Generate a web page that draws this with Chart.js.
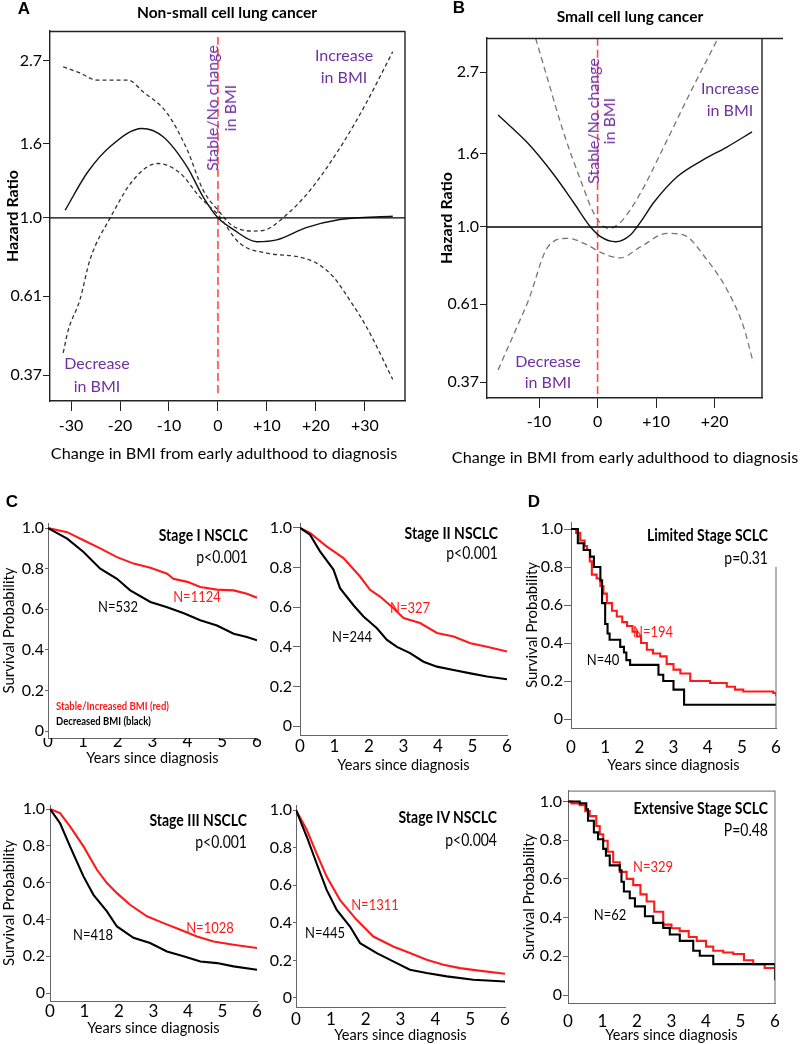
<!DOCTYPE html>
<html><head><meta charset="utf-8">
<script src="https://cdn.jsdelivr.net/npm/chart.js@4.4.1/dist/chart.umd.min.js"></script>
<style>
body{margin:0;width:800px;height:1044px;position:relative;background:#fff;font-family:Lato,sans-serif;overflow:hidden}
.box{position:absolute}
.t{position:absolute;white-space:nowrap;line-height:1.15;color:#000}
</style></head><body>
<script>
// ---------------- DATA ----------------
// Panel A: Non-small cell lung cancer (spline hazard ratio vs BMI change)
const hrTicks = [0.37, 0.61, 1.0, 1.6, 2.7];
const hrTickLabels = ['0.37', '0.61', '1.0', '1.6', '2.7'];
const nsclcXTicks = [-30, -20, -10, 0, 10, 20, 30];
const nsclcXTickLabels = ['-30', '-20', '-10', '0', '+10', '+20', '+30'];
const nsclcHrX = [-31.2, -26.7, -22, -15.5, -11.2, -6.3, -3, 0, 3.1, 7.9, 12, 18, 24.9, 35.7];
const nsclcHrY = [1.05, 1.33, 1.57, 1.76, 1.67, 1.38, 1.14, 1.0, 0.93, 0.86, 0.87, 0.94, 0.99, 1.01];
const nsclcUpperX = [-31.6, -28.2, -24.7, -18.4, -15.3, -10.4, -6.3, -3, 0, 3, 7.2, 10, 13.3, 18.8, 25.6, 30.3, 35.7];
const nsclcUpperY = [2.60, 2.50, 2.39, 2.39, 2.22, 1.94, 1.54, 1.19, 1.05, 0.95, 0.92, 0.93, 1.0, 1.19, 1.61, 2.07, 2.86];
const nsclcLowerX = [-31.6, -30.6, -28.2, -26.1, -22, -17.3, -12.4, -7.8, -3.7, 0, 4.5, 10, 16.7, 20.2, 23.5, 26.9, 30.4, 35.7];
const nsclcLowerY = [0.426, 0.49, 0.595, 0.77, 1.0, 1.27, 1.41, 1.33, 1.14, 1.02, 0.85, 0.80, 0.78, 0.75, 0.69, 0.595, 0.50, 0.36];

// Panel B: Small cell lung cancer
const sclcXTicks = [-10, 0, 10, 20];
const sclcXTickLabels = ['-10', '0', '+10', '+20'];
const sclcHrX = [-17, -11.9, -7.5, -4.1, -1.2, 0.5, 3.1, 5.6, 7.3, 9.6, 13.6, 18.1, 22.1, 26.4];
const sclcHrY = [2.05, 1.71, 1.40, 1.17, 1.0, 0.94, 0.91, 0.95, 1.03, 1.17, 1.38, 1.54, 1.67, 1.84];
const sclcUpperX = [-10.6, -8.5, -5.8, -2.9, -0.6, 1.9, 3.9, 7.3, 11.3, 15.8, 20.6];
const sclcUpperY = [3.36, 2.57, 1.83, 1.35, 1.09, 0.99, 1.03, 1.24, 1.67, 2.36, 3.36];
const sclcLowerX = [-17, -14, -11.8, -8.5, -5.1, -1.7, 0.5, 3.9, 7.3, 11.9, 14.7, 18.7, 22.1, 24.9, 26.6];
const sclcLowerY = [0.40, 0.517, 0.626, 0.88, 0.93, 0.89, 0.85, 0.82, 0.88, 0.96, 0.95, 0.81, 0.67, 0.53, 0.42];

// Kaplan-Meier panels (years, survival probability)
const kmXTicks = [0, 1, 2, 3, 4, 5, 6];
const kmYTicks = [0, 0.2, 0.4, 0.6, 0.8, 1.0];
const kmYTickLabels = ['0', '0.2', '0.4', '0.6', '0.8', '1.0'];

const stage1RedT = [0, 0.55, 1.02, 1.5, 1.98, 2.46, 2.94, 3.42, 3.6, 4.0, 4.37, 4.85, 5.33, 5.71, 6.0];
const stage1RedS = [1, 0.98, 0.94, 0.90, 0.857, 0.825, 0.805, 0.775, 0.75, 0.735, 0.71, 0.697, 0.693, 0.677, 0.657];
const stage1BlackT = [0, 0.55, 1.02, 1.5, 1.98, 2.36, 2.94, 3.42, 3.9, 4.37, 4.85, 5.33, 5.71, 6.0];
const stage1BlackS = [1, 0.948, 0.882, 0.80, 0.75, 0.693, 0.636, 0.61, 0.58, 0.546, 0.52, 0.48, 0.464, 0.447];

const stage2RedT = [0, 0.29, 0.77, 1.26, 1.74, 2.03, 2.32, 2.71, 3.0, 3.48, 3.97, 4.45, 4.94, 5.42, 6.0];
const stage2RedS = [1, 0.975, 0.907, 0.848, 0.755, 0.688, 0.654, 0.595, 0.545, 0.52, 0.47, 0.452, 0.418, 0.40, 0.376];
const stage2BlackT = [0, 0.29, 0.58, 0.97, 1.16, 1.55, 1.84, 2.23, 2.52, 2.81, 3.19, 3.58, 3.97, 4.45, 4.94, 5.42, 6.0];
const stage2BlackS = [1, 0.966, 0.882, 0.79, 0.696, 0.61, 0.553, 0.494, 0.435, 0.40, 0.368, 0.325, 0.30, 0.283, 0.266, 0.25, 0.236];

const stage3RedT = [0, 0.29, 0.58, 0.97, 1.36, 1.65, 1.94, 2.32, 2.81, 3.29, 3.78, 4.26, 4.74, 5.32, 6.0];
const stage3RedS = [1, 0.978, 0.906, 0.797, 0.67, 0.598, 0.543, 0.48, 0.417, 0.38, 0.344, 0.308, 0.28, 0.263, 0.245];
const stage3BlackT = [0, 0.29, 0.58, 0.97, 1.26, 1.65, 1.94, 2.42, 2.9, 3.39, 3.87, 4.36, 4.84, 5.32, 6.0];
const stage3BlackS = [1, 0.924, 0.797, 0.634, 0.534, 0.444, 0.362, 0.30, 0.272, 0.226, 0.20, 0.172, 0.163, 0.145, 0.127];

const stage4RedT = [0, 0.31, 0.59, 0.88, 1.26, 1.74, 2.22, 2.79, 3.27, 3.75, 4.23, 4.71, 5.19, 6.0];
const stage4RedS = [1, 0.894, 0.77, 0.646, 0.522, 0.416, 0.327, 0.274, 0.239, 0.204, 0.177, 0.159, 0.147, 0.129];
const stage4BlackT = [0, 0.31, 0.59, 0.88, 1.17, 1.55, 1.84, 2.32, 2.79, 3.27, 3.75, 4.33, 5.09, 6.0];
const stage4BlackS = [1, 0.858, 0.717, 0.575, 0.469, 0.38, 0.292, 0.239, 0.195, 0.15, 0.133, 0.115, 0.097, 0.088];

const limitedRedT = [0, 0.15, 0.27, 0.4, 0.47, 0.55, 0.61, 0.75, 0.86, 0.95, 1.05, 1.2, 1.34, 1.5, 1.64, 1.8, 1.93, 2.05, 2.22, 2.4, 2.61, 2.8, 3.0, 3.2, 3.49, 4.07, 4.56, 4.8, 5.04, 5.92, 6.0];
const limitedRedS = [1, 0.98, 0.94, 0.91, 0.89, 0.83, 0.76, 0.74, 0.70, 0.66, 0.61, 0.57, 0.54, 0.51, 0.49, 0.46, 0.435, 0.40, 0.365, 0.345, 0.33, 0.29, 0.26, 0.24, 0.20, 0.19, 0.17, 0.155, 0.145, 0.137, 0.12];
const limitedBlackT = [0, 0.2, 0.37, 0.56, 0.67, 0.86, 0.91, 1.0, 1.07, 1.13, 1.44, 1.55, 1.62, 1.73, 2.56, 2.7, 3.0, 3.31, 6.0];
const limitedBlackS = [1, 0.925, 0.89, 0.855, 0.80, 0.73, 0.61, 0.50, 0.45, 0.417, 0.38, 0.35, 0.31, 0.285, 0.233, 0.20, 0.155, 0.075, 0.075];

const extensiveRedT = [0, 0.1, 0.34, 0.5, 0.63, 0.82, 0.92, 1.02, 1.15, 1.31, 1.5, 1.7, 1.89, 2.1, 2.28, 2.5, 2.76, 3.0, 3.24, 3.5, 3.73, 4.0, 4.21, 4.5, 4.79, 5.1, 5.37, 5.7, 6.0];
const extensiveRedS = [1, 0.99, 0.98, 0.95, 0.924, 0.873, 0.83, 0.797, 0.74, 0.686, 0.636, 0.60, 0.568, 0.52, 0.483, 0.43, 0.364, 0.345, 0.33, 0.30, 0.28, 0.25, 0.229, 0.22, 0.212, 0.18, 0.16, 0.14, 0.119];
const extensiveBlackT = [0, 0.34, 0.53, 0.58, 0.75, 0.87, 1.02, 1.1, 1.21, 1.5, 1.55, 1.62, 1.79, 1.94, 2.23, 2.47, 2.76, 2.95, 3.24, 3.63, 3.82, 4.21, 5.97, 6.0];
const extensiveBlackS = [1, 0.99, 0.96, 0.90, 0.84, 0.805, 0.755, 0.72, 0.67, 0.645, 0.585, 0.535, 0.50, 0.458, 0.407, 0.373, 0.347, 0.313, 0.28, 0.229, 0.203, 0.16, 0.16, 0.076];

// ---------------- HELPERS ----------------
Chart.defaults.font.family = 'Lato, sans-serif';
Chart.defaults.color = '#000';
const PURPLE = '#7030A0';
const RED = '#ff1a1a';

const pts = (xs, ys) => xs.map((x, i) => ({x: x, y: ys[i]}));

const framePlugin = {
  id: 'frame',
  afterDraw(chart, args, o) {
    if (!o || (!o.top && !o.right)) return;
    const a = chart.chartArea, ctx = chart.ctx;
    const ext = o.topExtend ? o.topExtend : 0;
    ctx.save();
    ctx.strokeStyle = o.color || '#000';
    ctx.lineWidth = o.width || 1;
    ctx.setLineDash([]);
    ctx.beginPath();
    if (o.top) { ctx.moveTo(a.left, a.top + 0.5); ctx.lineTo(a.right + ext, a.top + 0.5); }
    if (o.right) {
      const y0 = (typeof o.rightFrom === 'number') ? chart.scales.y.getPixelForValue(o.rightFrom) : a.top;
      ctx.moveTo(a.right, y0); ctx.lineTo(a.right, a.bottom);
    }
    ctx.stroke();
    ctx.restore();
  }
};
Chart.register(framePlugin);

function makeCanvas(left, top, w, h) {
  const d = document.createElement('div');
  d.className = 'box';
  d.style.left = left + 'px'; d.style.top = top + 'px';
  d.style.width = w + 'px'; d.style.height = h + 'px';
  const c = document.createElement('canvas');
  c.width = w; c.height = h;
  c.style.width = w + 'px'; c.style.height = h + 'px';
  d.appendChild(c);
  document.body.appendChild(d);
  return c;
}

function text(str, x, y, o) {
  o = o || {};
  const d = document.createElement('div');
  d.className = 't';
  d.innerHTML = str;
  d.style.left = x + 'px'; d.style.top = y + 'px';
  d.style.fontSize = (o.size || 14) + 'px';
  d.style.fontWeight = o.bold ? '700' : '400';
  d.style.color = o.color || '#000';
  if (o.family) d.style.fontFamily = o.family;
  if (o.lh) d.style.lineHeight = o.lh + 'px';
  d.style.textAlign = o.align || 'center';
  const ax = o.anchor === 'right' ? '-100%' : (o.anchor === 'left' ? '0' : '-50%');
  let tr = 'translate(' + ax + ',-50%)';
  if (o.rotate) tr = 'translate(-50%,-50%) rotate(' + o.rotate + 'deg)';
  if (o.sy) { tr += ' scale(1,' + o.sy + ')'; d.style.transformOrigin = o.anchor === 'right' ? '100% 50%' : (o.anchor === 'left' ? '0 50%' : '50% 50%'); }
  d.style.transform = tr;
  document.body.appendChild(d);
}

// ---------------- HAZARD RATIO CHARTS ----------------
function hrChart(L, s) {
  const c = makeCanvas(L.left, L.top, L.w, L.h);
  const line = (data, dash, color, width) => ({
    data: data, borderColor: color, borderWidth: width, borderDash: dash,
    pointRadius: 0, fill: false, cubicInterpolationMode: 'monotone'
  });
  new Chart(c, {
    type: 'line',
    data: {datasets: [
      line(pts([L.xMin, L.xMax], [1, 1]), [], '#000', 1.4),
      line(pts(s.upX, s.upY), s.ciDash, s.ciColor, 1.3),
      line(pts(s.loX, s.loY), s.ciDash, s.ciColor, 1.3),
      line(pts(s.hrX, s.hrY), [], '#111', 1.4),
      line(pts([0, 0], [L.redTop, L.redBottom]), [8, 4], '#ff4a4a', 1.6)
    ]},
    options: {
      responsive: false, animation: false, devicePixelRatio: 1,
      layout: {padding: {top: L.plotTop - L.top, right: L.left + L.w - L.plotRight, left: 0, bottom: 0}},
      plugins: {legend: {display: false}, tooltip: {enabled: false},
        frame: {top: true, right: true, topExtend: L.topExtend, color: '#222', width: 1.4}},
      scales: {
        x: {
          type: 'linear', min: L.xMin, max: L.xMax, bounds: 'data',
          afterBuildTicks: sc => { sc.ticks = s.xTicks.map(v => ({value: v})); },
          afterFit: sc => { sc.height = L.top + L.h - L.plotBottom; },
          ticks: {callback: (v, i) => s.xTickLabels[i], padding: L.xTickPad, font: {size: 16}, color: '#000', maxRotation: 0, autoSkip: false},
          grid: {drawOnChartArea: false, drawTicks: true, tickLength: 10, color: '#222'},
          border: {color: '#222', width: 1.4},
          title: {display: false}
        },
        y: {
          type: 'logarithmic', min: L.yMin, max: L.yMax, bounds: 'data',
          afterBuildTicks: sc => { sc.ticks = hrTicks.map(v => ({value: v})); },
          afterFit: sc => { sc.width = L.plotLeft - L.left; },
          ticks: {callback: (v, i) => hrTickLabels[i], padding: 1, font: {size: 16}, color: '#000', autoSkip: false},
          grid: {drawOnChartArea: false, drawTicks: true, tickLength: 7, color: '#222'},
          border: {color: '#222', width: 1.4},
          title: {display: true, text: 'Hazard Ratio', font: {size: 16, weight: 'bold'}, color: '#000', padding: {top: L.yTitlePad, bottom: 0}}
        }
      }
    }
  });
}

hrChart({left: 0, top: 0, w: 410, h: 470, plotLeft: 50, plotTop: 31, plotRight: 405, plotBottom: 401,
  xMin: -34.3, xMax: 38.2, yMin: 0.314, yMax: 3.26, redTop: 3.14, redBottom: 0.326, topExtend: 0,
  xTickPad: 5, yTitlePad: 3},
  {hrX: nsclcHrX, hrY: nsclcHrY, upX: nsclcUpperX, upY: nsclcUpperY, loX: nsclcLowerX, loY: nsclcLowerY,
   xTicks: nsclcXTicks, xTickLabels: nsclcXTickLabels, ciDash: [4, 3], ciColor: '#333'});

hrChart({left: 400, top: 0, w: 400, h: 475, plotLeft: 487, plotTop: 38, plotRight: 762, plotBottom: 398,
  xMin: -18.9, xMax: 28.1, yMin: 0.334, yMax: 3.36, redTop: 3.36, redBottom: 0.334, topExtend: 21,
  xTickPad: 4, yTitlePad: 37},
  {hrX: sclcHrX, hrY: sclcHrY, upX: sclcUpperX, upY: sclcUpperY, loX: sclcLowerX, loY: sclcLowerY,
   xTicks: sclcXTicks, xTickLabels: sclcXTickLabels, ciDash: [6, 4], ciColor: '#777'});

// ---------------- KAPLAN-MEIER CHARTS ----------------
function kmChart(L, s) {
  const c = makeCanvas(L.left, L.top, L.w, L.h);
  const ds = (t, v, color) => ({
    data: pts(t, v), borderColor: color, borderWidth: 2.1, pointRadius: 0, fill: false,
    stepped: s.stepped ? 'before' : false, tension: 0
  });
  new Chart(c, {
    type: 'line',
    data: {datasets: [ds(s.blackT, s.blackS, '#000'), ds(s.redT, s.redS, RED)]},
    options: {
      responsive: false, animation: false, devicePixelRatio: 1,
      layout: {padding: {top: L.plotTop - L.top, right: L.left + L.w - L.plotRight, left: 0, bottom: 0}},
      plugins: {legend: {display: false}, tooltip: {enabled: false},
        frame: Object.assign({color: '#666', width: 1, top: false, right: false}, L.frame || {})},
      scales: {
        x: {
          type: 'linear', min: 0, max: 6, bounds: 'data',
          afterBuildTicks: sc => { sc.ticks = kmXTicks.map(v => ({value: v})); },
          afterFit: sc => { sc.height = L.top + L.h - L.plotBottom; },
          ticks: {callback: v => String(v), padding: L.xTickPad, font: {size: 17}, color: '#000', maxRotation: 0, autoSkip: false},
          grid: {drawOnChartArea: false, drawTicks: false, tickLength: 0},
          border: {color: '#666', width: 1},
          title: {display: true, text: 'Years since diagnosis', font: {size: 14.5}, color: '#000', padding: {top: 0, bottom: L.xTitlePad}}
        },
        y: {
          type: 'linear', min: L.yMin, max: L.yMax, bounds: 'data',
          afterBuildTicks: sc => { sc.ticks = kmYTicks.map(v => ({value: v})); },
          afterFit: sc => { sc.width = L.plotLeft - L.left; },
          ticks: {callback: (v, i) => kmYTickLabels[i], padding: 1, font: {size: 16}, color: '#000', autoSkip: false},
          grid: {drawOnChartArea: false, drawTicks: true, tickLength: L.yGap - 1, color: '#666'},
          border: {color: '#666', width: 1},
          title: {display: !!L.yTitle, text: 'Survival Probability', font: {size: 15}, color: '#000', padding: {top: L.yTitlePad || 0, bottom: 0}}
        }
      }
    }
  });
}

// C: Stage I
kmChart({left: 0, top: 490, w: 265, h: 285, plotLeft: 48, plotTop: 523, plotRight: 257, plotBottom: 738,
  yMin: -0.034, yMax: 1.025, xTickPad: -7, xTitlePad: 8, yGap: 4, yTitle: true, yTitlePad: 0},
  {redT: stage1RedT, redS: stage1RedS, blackT: stage1BlackT, blackS: stage1BlackS});
// C: Stage II
kmChart({left: 260, top: 490, w: 255, h: 292, plotLeft: 300, plotTop: 523, plotRight: 507, plotBottom: 735,
  yMin: -0.045, yMax: 1.025, xTickPad: 1, xTitlePad: 8, yGap: 8},
  {redT: stage2RedT, redS: stage2RedS, blackT: stage2BlackT, blackS: stage2BlackS});
// D: Limited stage
kmChart({left: 520, top: 490, w: 270, h: 292, plotLeft: 571, plotTop: 522, plotRight: 776, plotBottom: 728,
  yMin: -0.047, yMax: 1.037, xTickPad: 9, xTitlePad: 8, yGap: 8, yTitle: true, yTitlePad: 3,
  frame: {right: true, rightFrom: 0.8}},
  {redT: limitedRedT, redS: limitedRedS, blackT: limitedBlackT, blackS: limitedBlackS, stepped: true});
// C: Stage III
kmChart({left: 0, top: 780, w: 265, h: 264, plotLeft: 50, plotTop: 805, plotRight: 257, plotBottom: 1001,
  yMin: -0.043, yMax: 1.022, xTickPad: 0, xTitlePad: 7, yGap: 5, yTitle: true, yTitlePad: 0},
  {redT: stage3RedT, redS: stage3RedS, blackT: stage3BlackT, blackS: stage3BlackS});
// C: Stage IV
kmChart({left: 260, top: 780, w: 255, h: 264, plotLeft: 296, plotTop: 805, plotRight: 505, plotBottom: 1007,
  yMin: -0.048, yMax: 1.027, xTickPad: 2, xTitlePad: 0, yGap: 4},
  {redT: stage4RedT, redS: stage4RedS, blackT: stage4BlackT, blackS: stage4BlackS});
// D: Extensive stage
kmChart({left: 520, top: 780, w: 270, h: 264, plotLeft: 568, plotTop: 787, plotRight: 775, plotBottom: 1003,
  yMin: -0.041, yMax: 1.056, xTickPad: 8, xTitlePad: 0, yGap: 6, yTitle: true, yTitlePad: 0,
  frame: {top: true, right: true}},
  {redT: extensiveRedT, redS: extensiveRedS, blackT: extensiveBlackT, blackS: extensiveBlackS, stepped: true});

// ---------------- TEXT ANNOTATIONS ----------------
const AR = 'Liberation Sans, Arial, sans-serif';
text('A', 24, 9, {size: 17, bold: true, family: AR});
text('Non-small cell lung cancer', 227, 13, {size: 15.5, bold: true});
text('B', 459, 8, {size: 17, bold: true, family: AR});
text('Small cell lung cancer', 630, 17, {size: 15.5, bold: true});
text('Change in BMI from early adulthood to diagnosis', 224, 453, {size: 16.2});
text('Change in BMI from early adulthood to diagnosis', 625, 457, {size: 16.2});

text('Increase<br>in BMI', 344, 66, {size: 16, color: PURPLE, lh: 22});
text('Decrease<br>in BMI', 97, 374, {size: 16, color: PURPLE, lh: 23});
text('Stable/No change<br>in BMI', 221, 108, {size: 16, color: PURPLE, lh: 18, rotate: -90});
text('Increase<br>in BMI', 730, 99, {size: 16, color: PURPLE, lh: 22});
text('Decrease<br>in BMI', 548, 371, {size: 16, color: PURPLE, lh: 21});
text('Stable/No change<br>in BMI', 601, 121, {size: 16, color: PURPLE, lh: 16, rotate: -90});

text('C', 12, 502, {size: 17, bold: true, family: AR});
text('D', 534, 502, {size: 17, bold: true, family: AR});

const SY = 1.18;
// Stage I
text('Stage I NSCLC', 248, 535, {size: 14, bold: true, anchor: 'right', sy: SY});
text('p&lt;0.001', 248, 557, {size: 14, anchor: 'right', sy: SY});
text('N=532', 118, 607, {size: 13, sy: SY});
text('N=1124', 197, 597, {size: 13, color: RED, sy: SY});
text('Stable/Increased BMI (red)', 56, 707, {size: 9.5, bold: true, color: RED, anchor: 'left', sy: SY});
text('Decreased BMI (black)', 56, 722, {size: 9.5, bold: true, anchor: 'left', sy: SY});
// Stage II
text('Stage II NSCLC', 498, 533, {size: 14, bold: true, anchor: 'right', sy: SY});
text('p&lt;0.001', 498, 553, {size: 14, anchor: 'right', sy: SY});
text('N=327', 410, 608, {size: 13, color: RED, sy: SY});
text('N=244', 352, 637, {size: 13, sy: SY});
// Limited
text('Limited Stage SCLC', 768, 535, {size: 14, bold: true, anchor: 'right', sy: SY});
text('p=0.31', 768, 558, {size: 14, anchor: 'right', sy: SY});
text('N=194', 653, 632, {size: 13, color: RED, sy: SY});
text('N=40', 603, 660, {size: 13, sy: SY});
// Stage III
text('Stage III NSCLC', 247, 820, {size: 14, bold: true, anchor: 'right', sy: SY});
text('p&lt;0.001', 247, 842, {size: 14, anchor: 'right', sy: SY});
text('N=1028', 210, 928, {size: 13, color: RED, sy: SY});
text('N=418', 93, 935, {size: 13, sy: SY});
// Stage IV
text('Stage IV NSCLC', 497, 817, {size: 14, bold: true, anchor: 'right', sy: SY});
text('p&lt;0.004', 497, 840, {size: 14, anchor: 'right', sy: SY});
text('N=1311', 375, 905, {size: 13, color: RED, sy: SY});
text('N=445', 325, 933, {size: 13, sy: SY});
// Extensive
text('Extensive Stage SCLC', 768, 808, {size: 14, bold: true, anchor: 'right', sy: SY});
text('P=0.48', 768, 830, {size: 14, anchor: 'right', sy: SY});
text('N=329', 653, 867, {size: 13, color: RED, sy: SY});
text('N=62', 610, 915, {size: 13, sy: SY});
</script>
</body></html>
